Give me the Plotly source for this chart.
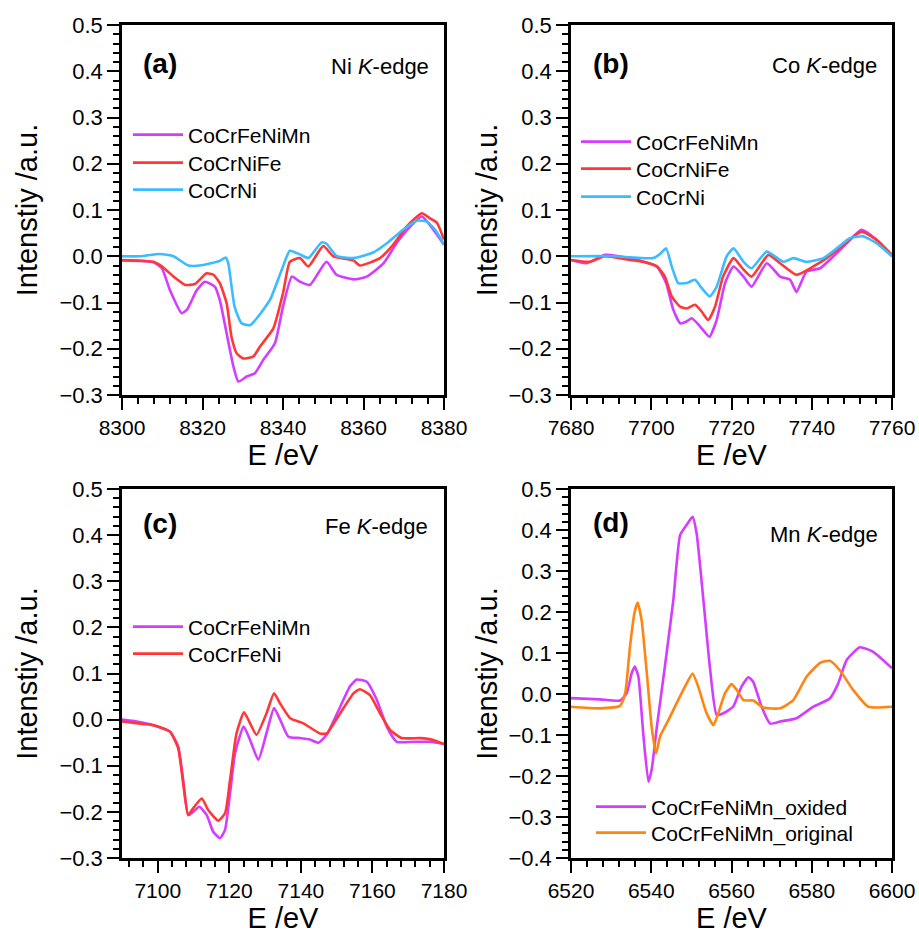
import plotly.graph_objects as go

# ---------------- data ----------------
# (a) Ni K-edge
a_mn_E = [8300, 8307.8, 8309.9, 8311.9, 8314.8, 8316.1, 8318.6, 8320.6, 8323.1, 8324.3, 8326, 8327.7, 8328.9, 8331, 8333, 8335.1, 8338, 8340, 8342.2, 8344.2, 8346.7, 8350.8, 8353.3, 8357.5, 8360.8, 8365, 8368.2, 8371.6, 8374.5, 8377.4, 8380]
a_mn_I = [-0.009, -0.013, -0.026, -0.073, -0.123, -0.116, -0.073, -0.055, -0.066, -0.095, -0.167, -0.239, -0.271, -0.26, -0.253, -0.224, -0.188, -0.109, -0.044, -0.055, -0.062, -0.012, -0.04, -0.05, -0.044, -0.015, 0.028, 0.064, 0.086, 0.057, 0.025]
a_fe_E = [8300, 8307.8, 8309.9, 8312.8, 8315.7, 8318.1, 8321, 8322.7, 8324.3, 8326, 8327.2, 8328.5, 8330.1, 8332.6, 8334.3, 8337.6, 8340, 8341.7, 8344.2, 8346.3, 8350, 8352.5, 8357.5, 8359.1, 8364.1, 8367.4, 8370.7, 8374.5, 8376.5, 8378.2, 8380]
a_fe_I = [-0.008, -0.012, -0.022, -0.044, -0.062, -0.06, -0.037, -0.04, -0.058, -0.102, -0.174, -0.21, -0.221, -0.217, -0.195, -0.156, -0.08, -0.012, -0.004, -0.022, 0.022, 0.0, -0.009, -0.02, -0.004, 0.025, 0.064, 0.093, 0.082, 0.073, 0.036]
a_ni_E = [8300, 8304.5, 8309.4, 8312.8, 8316.5, 8320.2, 8324.3, 8325.8, 8326.4, 8328, 8329.7, 8331.8, 8333.5, 8336.8, 8340, 8341.7, 8344.2, 8346.3, 8349.6, 8350.8, 8353.3, 8357.5, 8362.4, 8365.8, 8369.9, 8373.2, 8375.7, 8377.8, 8380]
a_ni_I = [0.0, 0.0, 0.005, 0.0, -0.02, -0.019, -0.01, -0.003, -0.015, -0.11, -0.145, -0.149, -0.134, -0.094, -0.022, 0.012, 0.004, -0.004, 0.03, 0.027, 0.001, -0.004, 0.008, 0.028, 0.058, 0.077, 0.075, 0.057, 0.026]

# (b) Co K-edge
b_mn_E = [7680, 7683.9, 7688.5, 7694.7, 7701.4, 7703.7, 7705.5, 7707.2, 7708.8, 7710.1, 7712.2, 7714.5, 7716.3, 7718.4, 7720.5, 7723, 7725, 7728.8, 7732.1, 7734.6, 7736.2, 7738.7, 7742.1, 7745.4, 7748.7, 7752.4, 7756.2, 7760]
b_mn_I = [-0.008, -0.015, 0.003, -0.004, -0.022, -0.058, -0.116, -0.145, -0.141, -0.134, -0.152, -0.174, -0.138, -0.058, -0.022, -0.044, -0.066, -0.015, -0.044, -0.051, -0.077, -0.033, -0.026, 0.0, 0.028, 0.057, 0.035, 0.0]
b_fe_E = [7680, 7684.7, 7688.5, 7694.7, 7698.9, 7701.4, 7703.4, 7705.1, 7707.2, 7708.8, 7710.9, 7712.6, 7714.2, 7715.9, 7717.9, 7720.5, 7723, 7725, 7729.2, 7732.1, 7736.2, 7740.4, 7743.7, 7747.9, 7752.4, 7756.2, 7760]
b_fe_I = [-0.008, -0.012, 0.0, -0.008, -0.014, -0.022, -0.044, -0.087, -0.109, -0.113, -0.105, -0.12, -0.138, -0.109, -0.044, -0.004, -0.029, -0.044, 0.003, -0.015, -0.04, -0.022, -0.004, 0.025, 0.053, 0.035, 0.003]
b_ni_E = [7680, 7690.5, 7700.5, 7702.2, 7703.7, 7705.1, 7706.7, 7708.8, 7710.9, 7712.6, 7714.6, 7716.3, 7718.8, 7720.5, 7723, 7725, 7728.8, 7732.9, 7735.4, 7738.7, 7742.9, 7746.2, 7749.5, 7752.8, 7756.2, 7760]
b_ni_I = [0.0, 0.0, -0.004, 0.005, 0.017, -0.022, -0.058, -0.058, -0.051, -0.069, -0.087, -0.066, 0.0, 0.017, -0.012, -0.026, 0.01, -0.012, -0.004, -0.012, -0.004, 0.017, 0.039, 0.043, 0.028, 0.0]

# (c) Fe K-edge
c_mn_E = [7090, 7094.1, 7098.8, 7103.4, 7105.7, 7107.1, 7108.5, 7109.9, 7111.6, 7113.7, 7115.5, 7117.4, 7118.8, 7120.2, 7121.6, 7124, 7125.8, 7128.1, 7130.4, 7132.5, 7134.2, 7136.5, 7139.8, 7142.5, 7144.9, 7147.2, 7151, 7153.7, 7155.6, 7158.4, 7161.2, 7164, 7166.8, 7171.4, 7176.1, 7180]
c_mn_I = [0.0, -0.004, -0.012, -0.026, -0.058, -0.131, -0.207, -0.2, -0.189, -0.207, -0.243, -0.257, -0.239, -0.16, -0.073, -0.015, -0.044, -0.087, -0.029, 0.025, 0.0, -0.037, -0.04, -0.043, -0.05, -0.033, 0.028, 0.072, 0.087, 0.082, 0.043, -0.015, -0.048, -0.048, -0.048, -0.053]
c_fe_E = [7090, 7094.1, 7098.8, 7103.4, 7105.7, 7107.1, 7108.5, 7109.9, 7112.3, 7114.1, 7116.9, 7118.8, 7120.2, 7122, 7124.1, 7125.8, 7127.6, 7130.4, 7132.5, 7134.2, 7137, 7140.7, 7145.3, 7147.2, 7151, 7154.7, 7156.5, 7159.3, 7162.1, 7164.9, 7168.2, 7173.3, 7177, 7180]
c_fe_I = [-0.004, -0.008, -0.012, -0.026, -0.062, -0.138, -0.207, -0.192, -0.171, -0.196, -0.219, -0.203, -0.131, -0.03, 0.016, -0.008, -0.033, 0.014, 0.057, 0.035, 0.003, -0.008, -0.03, -0.03, 0.014, 0.057, 0.066, 0.053, 0.014, -0.022, -0.04, -0.04, -0.044, -0.053]

# (d) Mn K-edge
d_ox_E = [6520, 6527.2, 6532.2, 6533.9, 6535.1, 6535.9, 6536.8, 6538, 6539.3, 6540.1, 6541.4, 6543.4, 6545.5, 6547.2, 6548.8, 6550.3, 6551.3, 6553, 6554.6, 6556.3, 6558, 6560.4, 6562.5, 6564.2, 6565.4, 6567.5, 6569.6, 6572.1, 6576.2, 6580.4, 6584.5, 6586.6, 6588.7, 6592, 6595.3, 6600]
d_ox_I = [-0.01, -0.013, -0.016, 0.002, 0.05, 0.067, 0.042, -0.096, -0.214, -0.185, -0.08, 0.067, 0.229, 0.388, 0.412, 0.432, 0.392, 0.229, 0.067, -0.051, -0.047, -0.031, 0.018, 0.041, 0.03, -0.031, -0.072, -0.067, -0.059, -0.031, -0.011, 0.026, 0.083, 0.114, 0.103, 0.063]
d_or_E = [6520, 6527.2, 6532.2, 6533.5, 6534.7, 6535.8, 6536.6, 6537.6, 6538.9, 6540.1, 6541.2, 6542.2, 6544.3, 6546.3, 6548.4, 6550.3, 6551.7, 6553.8, 6555.5, 6556.7, 6558.4, 6560, 6561.3, 6563, 6565.4, 6567.9, 6572.1, 6575.4, 6578.7, 6582.1, 6584.5, 6587, 6590.3, 6594.1, 6600]
d_or_I = [-0.031, -0.035, -0.029, 0.002, 0.115, 0.197, 0.223, 0.18, 0.05, -0.08, -0.145, -0.104, -0.063, -0.023, 0.018, 0.05, 0.018, -0.047, -0.076, -0.047, 0.002, 0.024, 0.01, -0.015, -0.016, -0.033, -0.035, -0.015, 0.042, 0.076, 0.081, 0.058, 0.01, -0.031, -0.031]

x_ranges = [[8300, 8380], [7680, 7760], [7090, 7180], [6520, 6600]]
y_ranges = [[-0.3, 0.5], [-0.3, 0.5], [-0.3, 0.5], [-0.4, 0.5]]
panel_labels = ["(a)", "(b)", "(c)", "(d)"]
edge_labels = ["Ni <i>K</i>-edge", "Co <i>K</i>-edge", "Fe <i>K</i>-edge", "Mn <i>K</i>-edge"]
x_title = "E /eV"
y_title = "Intenstiy /a.u."

MAGENTA = "#D43CFF"
RED = "#FF3737"
BLUE = "#3CBBFF"
ORANGE = "#FF8512"

W, H = 919, 937
def px(x):
    return x / W
def py(y):
    return 1 - y / H

# (panel, name, E, I, colour, legend text start px, legend row centre px)
series = [
    (1, "CoCrFeNiMn", a_mn_E, a_mn_I, MAGENTA, 189, 135),
    (1, "CoCrNiFe", a_fe_E, a_fe_I, RED, 189, 163),
    (1, "CoCrNi", a_ni_E, a_ni_I, BLUE, 189, 190),
    (2, "CoCrFeNiMn", b_mn_E, b_mn_I, MAGENTA, 637, 142),
    (2, "CoCrNiFe", b_fe_E, b_fe_I, RED, 637, 169),
    (2, "CoCrNi", b_ni_E, b_ni_I, BLUE, 637, 197),
    (3, "CoCrFeNiMn", c_mn_E, c_mn_I, MAGENTA, 189, 627),
    (3, "CoCrFeNi", c_fe_E, c_fe_I, RED, 189, 654),
    (4, "CoCrFeNiMn_oxided", d_ox_E, d_ox_I, MAGENTA, 652, 807),
    (4, "CoCrFeNiMn_original", d_or_E, d_or_I, ORANGE, 652, 833),
]

FONT = "Liberation Sans, Arial, sans-serif"

layout = dict(
    width=W, height=H,
    margin=dict(l=0, r=0, t=0, b=0),
    paper_bgcolor="white", plot_bgcolor="white",
    font=dict(family=FONT, color="black", size=20),
    showlegend=True,
)

fig = go.Figure()
for k, (p, name, xs, ys, col, lx, ly) in enumerate(series):
    sfx = "" if p == 1 else str(p)
    lg = "legend" if k == 0 else "legend" + str(k + 1)
    fig.add_trace(go.Scatter(
        x=xs, y=ys, name=name, mode="lines", showlegend=True,
        line=dict(color=col, width=2.6, shape="spline", smoothing=0.5),
        xaxis="x" + sfx, yaxis="y" + sfx, legend=lg,
    ))
    layout[lg] = dict(
        visible=True,
        x=px(lx - 61), y=py(ly), xanchor="left", yanchor="middle",
        bgcolor="rgba(0,0,0,0)", borderwidth=0,
        font=dict(family=FONT, size=21, color="black"),
        itemwidth=50,
    )

xdom = [[px(122), px(444)], [px(571), px(892)], [px(122), px(444)], [px(571), px(892)]]
ydom = [[py(395), py(25)], [py(395), py(25)], [py(858), py(489)], [py(858), py(489)]]
ytitle_standoff = [14, 3, 14, 3]

for i in range(4):
    sfx = "" if i == 0 else str(i + 1)
    layout["xaxis" + sfx] = dict(
        domain=xdom[i], range=x_ranges[i], anchor="y" + sfx, automargin=False,
        showline=True, linecolor="black", linewidth=2.5, mirror=True,
        ticks="outside", ticklen=12, tickwidth=2, tickcolor="black",
        dtick=20, tick0=0, showgrid=False, zeroline=False,
        tickfont=dict(family=FONT, size=21),
        minor=dict(dtick=4, tick0=0, ticks="outside", ticklen=6, tickwidth=2, tickcolor="black", showgrid=False),
        title=dict(text=x_title, font=dict(family=FONT, size=29), standoff=4),
    )
    layout["yaxis" + sfx] = dict(
        domain=ydom[i], range=y_ranges[i], anchor="x" + sfx, automargin=False,
        showline=True, linecolor="black", linewidth=2.5, mirror=True,
        ticks="outside", ticklen=12, tickwidth=2, tickcolor="black",
        dtick=0.1, tick0=0, tickformat=".1f", showgrid=False, zeroline=False,
        tickfont=dict(family=FONT, size=22),
        minor=dict(dtick=0.02, tick0=0, ticks="outside", ticklen=6, tickwidth=2, tickcolor="black", showgrid=False),
        title=dict(text=y_title, font=dict(family=FONT, size=29), standoff=ytitle_standoff[i]),
    )

annotations = []
lab_pos = [(160, 63), (611, 63), (160, 523), (611, 522)]
edge_pos = [(431, 66), (879, 65), (430, 526), (880, 534)]
for i in range(4):
    annotations.append(dict(
        text="<b>" + panel_labels[i] + "</b>", x=px(lab_pos[i][0]), y=py(lab_pos[i][1]),
        xref="paper", yref="paper", xanchor="center", yanchor="middle",
        showarrow=False, font=dict(family=FONT, size=28, color="black"),
    ))
    annotations.append(dict(
        text=edge_labels[i], x=px(edge_pos[i][0]), y=py(edge_pos[i][1]),
        xref="paper", yref="paper", xanchor="right", yanchor="middle",
        showarrow=False, font=dict(family=FONT, size=22, color="black"),
    ))
layout["annotations"] = annotations

fig.update_layout(**layout)
fig.write_html(
    "out.html",
    config={"displayModeBar": False},
    post_script="document.body.style.margin='0px';document.body.style.overflow='hidden';",
)
